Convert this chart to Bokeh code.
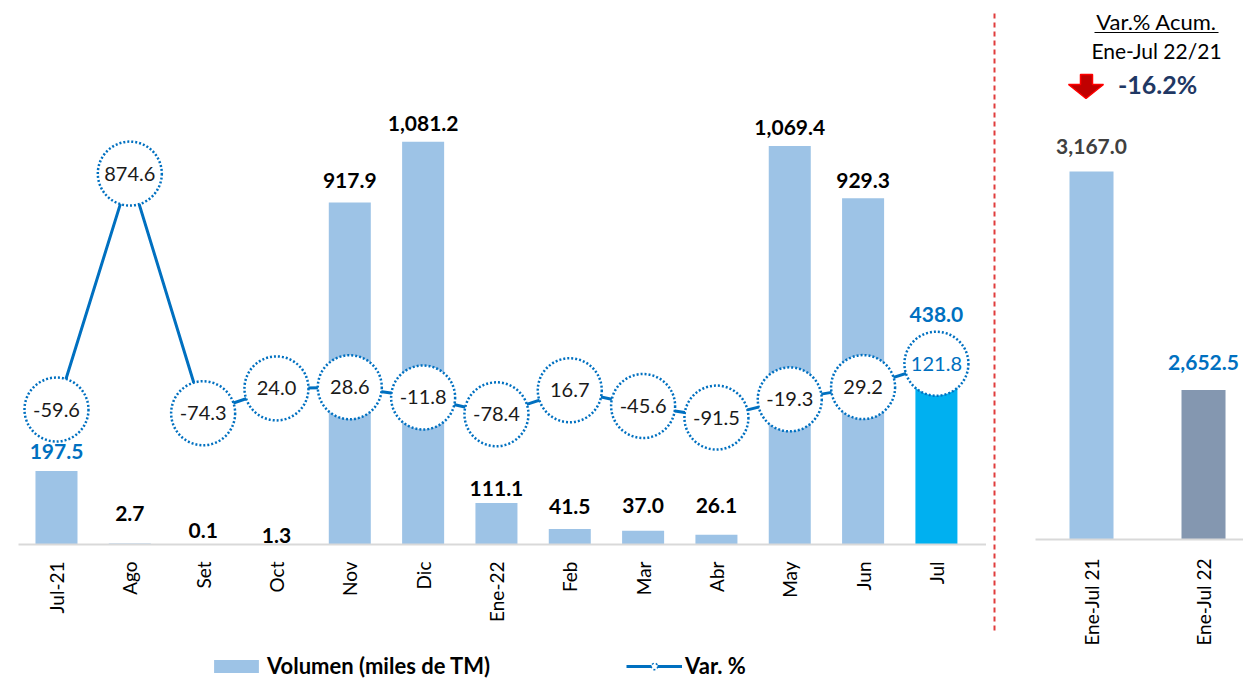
import math
from bokeh.plotting import figure
from bokeh.models import Range1d, FixedTicker, Legend, LegendItem
from bokeh.layouts import row, column
from bokeh.embed import file_html
from bokeh.resources import INLINE
from bokeh.core.properties import value

# ---------------- data ----------------
months = ["Jul-21", "Ago", "Set", "Oct", "Nov", "Dic", "Ene-22", "Feb", "Mar", "Abr", "May", "Jun", "Jul"]
volumen = [197.5, 2.7, 0.1, 1.3, 917.9, 1081.2, 111.1, 41.5, 37.0, 26.1, 1069.4, 929.3, 438.0]
var_pct = [-59.6, 874.6, -74.3, 24.0, 28.6, -11.8, -78.4, 16.7, -45.6, -91.5, -19.3, 29.2, 121.8]
acum_labels = ["Ene-Jul 21", "Ene-Jul 22"]
acum_values = [3167.0, 2652.5]
acum_var = -16.2

# ---------------- styles ----------------
FONT = "Lato"
BLUE = "#0070C0"
bar_colors = ["#9DC3E6"] * 12 + ["#00B0F0"]
vol_label_colors = [BLUE] + ["#000000"] * 11 + [BLUE]
vol_label_offsets = [19, 30, 14, 9, 22, 18, 15, 23, 25, 29, 19, 18, 67]
pct_label_colors = ["#1A1A1A"] * 12 + [BLUE]
acum_colors = ["#9DC3E6", "#8497B0"]
acum_label_colors = ["#404040", BLUE]
acum_label_offsets = [25, 27]

xs = list(range(len(months)))
TOP_H = 651


def style_xaxis(ax, ticks, labels, size, standoff):
    ax.ticker = FixedTicker(ticks=ticks)
    ax.major_label_overrides = {i: m for i, m in zip(ticks, labels)}
    ax.major_label_orientation = math.pi / 2
    ax.major_tick_line_color = None
    ax.minor_tick_line_color = None
    ax.axis_line_color = "#D9D9D9"
    ax.axis_line_width = 2
    ax.major_label_standoff = standoff
    ax.major_label_text_font = FONT
    ax.major_label_text_font_size = size
    ax.major_label_text_color = "#000000"


# ---------------- left chart ----------------
left = figure(width=986, height=TOP_H, x_range=Range1d(-0.518, 12.683), y_range=Range1d(0, 1460),
              output_backend="svg", toolbar_location=None, y_axis_location=None,
              min_border_left=18, min_border_right=0, min_border_top=0, min_border_bottom=TOP_H - 544,
              outline_line_color=None, frame_align=False)
left.extra_y_ranges = {"pct": Range1d(-594, 1560)}
left.xgrid.visible = False
left.ygrid.visible = False
style_xaxis(left.xaxis[0], xs, months, "19px", 11)

bars = left.vbar(x=xs, top=volumen, bottom=0, width=0.573, fill_color=bar_colors, line_color=None)
left.text(x=xs, y=volumen, text=[f"{v:,.1f}" for v in volumen],
          y_offset=[-o for o in vol_label_offsets], text_align="center", text_baseline="middle",
          text_color=vol_label_colors, text_font=value(FONT), text_font_style="bold",
          text_font_size="21px")

left.line(x=xs, y=var_pct, y_range_name="pct", line_color=BLUE, line_width=3)
left.scatter(x=xs, y=var_pct, y_range_name="pct", marker="circle", size=64,
             fill_color="white", line_color=BLUE, line_width=2.5, line_dash="2 2")
left.text(x=xs, y=var_pct, y_range_name="pct", text=[f"{v:.1f}" for v in var_pct],
          text_align="center", text_baseline="middle", text_color=pct_label_colors,
          text_font=value(FONT), text_font_size="20px")

# ---------------- divider ----------------
mid = figure(width=14, height=TOP_H, x_range=Range1d(0, 14), y_range=Range1d(TOP_H, 0),
             output_backend="svg", toolbar_location=None, x_axis_location=None, y_axis_location=None,
             min_border=0, outline_line_color=None, frame_align=False)
mid.xgrid.visible = False
mid.ygrid.visible = False
mid.segment(x0=[8], y0=[13], x1=[8], y1=[632], line_color="#E03C3C", line_dash="5 4", line_width=2)

# ---------------- right chart ----------------
R_MIN, R_MAX = 2300, 3570
right = figure(width=243, height=TOP_H, x_range=Range1d(-0.5, 1.357), y_range=Range1d(R_MIN, R_MAX),
               output_backend="svg", toolbar_location=None, y_axis_location=None,
               min_border_left=35, min_border_right=0, min_border_top=0, min_border_bottom=TOP_H - 539,
               outline_line_color=None, frame_align=False)
right.xgrid.visible = False
right.ygrid.visible = False
style_xaxis(right.xaxis[0], [0, 1], acum_labels, "19px", 13)

right.vbar(x=[0, 1], top=acum_values, bottom=R_MIN, width=0.393, fill_color=acum_colors, line_color=None)
right.text(x=[0, 1], y=acum_values, text=[f"{v:,.1f}" for v in acum_values],
           y_offset=[-o for o in acum_label_offsets], text_align="center", text_baseline="middle",
           text_color=acum_label_colors, text_font=value(FONT), text_font_style="bold",
           text_font_size="21px")


# helpers converting page pixels to right-panel data coords (decorations only)
def rx(px):
    return (px - 1091) / 112.0


def ry(py):
    return R_MIN + (539 - py) * (R_MAX - R_MIN) / 539.0


right.text(x=[rx(1156)], y=[ry(21)], text=["Var.% Acum."], text_align="center", text_baseline="middle",
           text_color="#000000", text_font=value(FONT), text_font_size="22px")
right.segment(x0=[rx(1094)], y0=[ry(32)], x1=[rx(1218)], y1=[ry(32)], line_color="#000000", line_width=1.2)
right.text(x=[rx(1156)], y=[ry(50)], text=["Ene-Jul 22/21"], text_align="center", text_baseline="middle",
           text_color="#000000", text_font=value(FONT), text_font_size="21px")
right.text(x=[rx(1157)], y=[ry(83)], text=[f"{acum_var:.1f}%"], text_align="center", text_baseline="middle",
           text_color="#1F3864", text_font=value(FONT), text_font_style="bold", text_font_size="25px")
arrow_px = [1080, 1092, 1092, 1103, 1085.5, 1068, 1080]
arrow_py = [74, 74, 84, 84, 98, 84, 84]
right.patch(x=[rx(v) for v in arrow_px], y=[ry(v) for v in arrow_py],
            fill_color="#C00000", line_color="#FF0000", line_width=1.5)

# ---------------- legend strip ----------------
LEG_H = 679 - TOP_H
leg = figure(width=1243, height=LEG_H, x_range=Range1d(0, 1243), y_range=Range1d(0, LEG_H),
             output_backend="svg", toolbar_location=None, x_axis_location=None, y_axis_location=None,
             min_border=0, outline_line_color=None, frame_align=False)
leg.xgrid.visible = False
leg.ygrid.visible = False
# swatch renderers placed outside the visible range (only their legend glyphs show)
sw_bar = leg.vbar(x=[-500], top=[-500], bottom=[-600], width=1, fill_color="#9DC3E6", line_color=None)
sw_line = leg.line(x=[-500, -400], y=[-500, -500], line_color=BLUE, line_width=3)
sw_circ = leg.scatter(x=[-500], y=[-500], marker="circle", size=12, fill_color="white",
                      line_color=BLUE, line_width=1.5, line_dash="2 2")
legend = Legend(items=[LegendItem(label="Volumen (miles de TM)", renderers=[sw_bar]),
                       LegendItem(label="Var. %", renderers=[sw_line, sw_circ])],
                location=(208, 0), orientation="horizontal", spacing=136,
                glyph_width=56, glyph_height=16, label_standoff=3,
                label_text_font=FONT, label_text_font_size="22px", label_text_font_style="bold",
                label_text_color="#000000", padding=0, margin=0,
                border_line_color=None, background_fill_alpha=0)
leg.add_layout(legend)

layout = column(row(left, mid, right), leg)
open("out.html", "w").write(file_html(layout, INLINE))
